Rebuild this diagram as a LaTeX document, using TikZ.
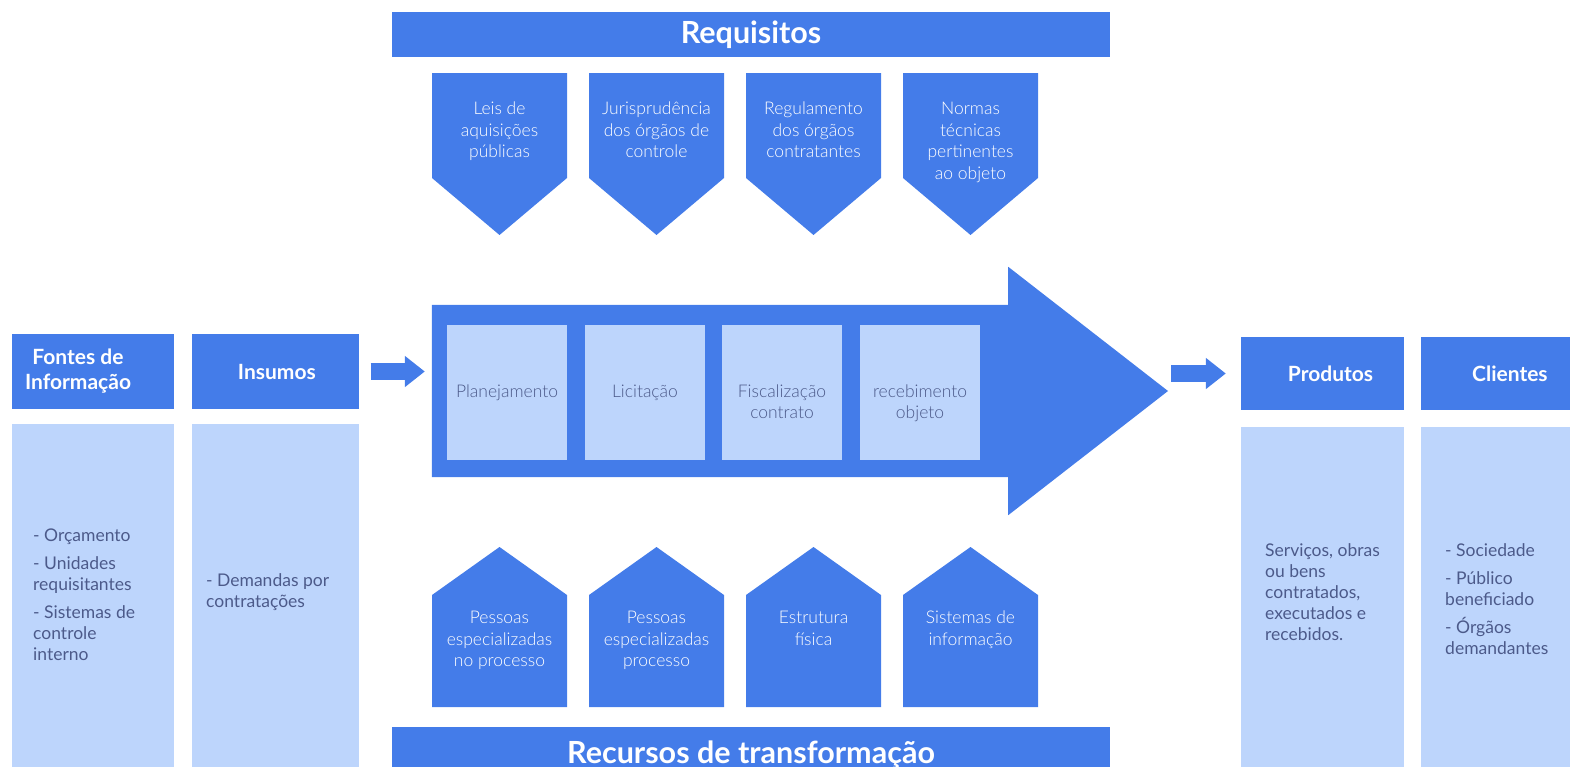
\documentclass[tikz,border=0pt]{standalone}
\usepackage{fontspec}
\setmainfont{Lato}
\newfontfamily\lightfont{Lato}[UprightFont={* Light}]
\usetikzlibrary{positioning,arrows.meta}

\definecolor{azul}{RGB}{68,124,233}
\definecolor{azulclaro}{RGB}{189,213,252}
\definecolor{cinzaazul}{RGB}{76,90,138}

\begin{document}
\begin{tikzpicture}[x=1pt,y=-1pt,
  cabecalho/.style={fill=azul,inner sep=0pt,minimum height=75pt},
  cabtexto/.style={text=white,font=\bfseries\fontsize{21}{25}\selectfont,align=center,inner sep=0pt},
  corpo/.style={fill=azulclaro,inner sep=0pt,minimum height=400pt,anchor=north},
  textocorpo/.style={text=cinzaazul,font=\fontsize{17.5}{21}\selectfont,align=left,inner sep=0pt,anchor=west},
  barra/.style={fill=azul,text=white,font=\bfseries\fontsize{30.5}{34}\selectfont,minimum width=718pt,inner sep=0pt},
  rotulo/.style={text=white,font=\lightfont\fontsize{17.5}{21.5}\selectfont,align=center,inner sep=0pt,anchor=north},
  etapa/.style={fill=azulclaro,minimum width=120pt,minimum height=135pt,inner sep=0pt},
  rotuloetapa/.style={text=cinzaazul,font=\lightfont\fontsize{17.5}{21}\selectfont,align=center,inner sep=0pt,anchor=north},
  seta/.style={azul,line width=17pt,-{Triangle[width=30pt,length=20pt]}}
]
\useasboundingbox (0,0) rectangle (1570,766);
\clip (0,0) rectangle (1570,766);

% entradas
\node[cabecalho,minimum width=162pt] (fontesh) at (93,371.5) {};
\node[cabtexto] at ([xshift=-15pt]fontesh.center) {Fontes de\\Informação};
\node[cabecalho,minimum width=167pt,right=18pt of fontesh] (insh) {};
\node[cabtexto] at ([xshift=1pt]insh.center) {Insumos};
\node[corpo,minimum width=162pt] (fontesb) at (93,424) {};
\node[corpo,minimum width=167pt] (insb) at (275.5,424) {};
\node[textocorpo] (fontest) at (33,594.5) {- Orçamento\\[7pt]- Unidades\\requisitantes\\[7pt]- Sistemas de\\controle\\interno};
\node[textocorpo] (inst) at (206,592.5) {- Demandas por\\contratações};

% saidas
\node[cabecalho,minimum width=163pt,minimum height=73pt] (prodh) at (1322.5,373.5) {};
\node[cabtexto] at ([xshift=8pt]prodh.center) {Produtos};
\node[cabecalho,minimum width=163pt,minimum height=73pt,right=17pt of prodh] (clih) {};
\node[cabtexto] at ([xshift=7pt]clih.center) {Clientes};
\node[corpo,minimum width=163pt] (prodb) at (1322.5,427) {};
\node[corpo,minimum width=163pt] (clib) at (1502.5,427) {};
\node[textocorpo] (prodt) at (1265,592) {Serviços, obras\\ou bens\\contratados,\\executados e\\recebidos.};
\node[textocorpo] (clit) at (1445,599.5) {- Sociedade\\[7pt]- Público\\beneficiado\\[7pt]- Órgãos\\demandantes};

% requisitos
\node[barra,minimum height=45pt] (requisitos) at (751,34.5) {Requisitos};
\foreach \i/\txt in {1/{Leis de\\aquisições\\públicas},2/{Jurisprudência\\dos órgãos de\\controle},3/{Regulamento\\dos órgãos\\contratantes},4/{Normas\\técnicas\\pertinentes\\ao objeto}}{
  \pgfmathsetmacro\xl{432+157*(\i-1)}
  \fill[azul] (\xl,73) -- ++(135,0) -- ++(0,105) -- ++(-67.5,57) -- ++(-67.5,-57) -- cycle;
  \node[rotulo] (req\i) at (\xl+67.5,102) {\txt};
}

% processo
\node[minimum width=576pt,minimum height=172pt,inner sep=0pt] (proc) at (720,391) {};
\coordinate (ponta) at (1168,391);
\fill[azul] (proc.north west) -- (proc.north east) -- ++(0,-38) -- (ponta)
  -- ([yshift=-38pt]proc.south east) -- (proc.south east) -- (proc.south west) -- cycle;
\foreach \i/\x/\txt in {1/507/Planejamento,2/645/Licitação,3/782/{Fiscalização\\contrato},4/920/{recebimento\\objeto}}{
  \node[etapa] (etapa\i) at (\x,392.5) {};
  \node[rotuloetapa] at ([yshift=-60pt]etapa\i.north) {\txt};
}
\draw[seta,shorten <=11pt,shorten >=7pt] (insh.east) -- (insh.east -| proc.west);
\draw[seta,shorten <=3pt,shorten >=15pt] (ponta |- prodh.west) -- (prodh.west);

% recursos
\foreach \i/\txt in {1/{Pessoas\\especializadas\\no processo},2/{Pessoas\\especializadas\\processo},3/{Estrutura\\física},4/{Sistemas de\\informação}}{
  \pgfmathsetmacro\xl{432+157*(\i-1)}
  \fill[azul] (\xl,707) -- ++(135,0) -- ++(0,-112) -- ++(-67.5,-48) -- ++(-67.5,48) -- cycle;
  \node[rotulo] (rec\i) at (\xl+67.5,611) {\txt};
}
\node[barra,minimum height=60pt,anchor=north] (recursos) at (751,727) {};
\node[barra,fill=none,anchor=base] at (751,763) {Recursos de transformação};
\end{tikzpicture}
\end{document}
